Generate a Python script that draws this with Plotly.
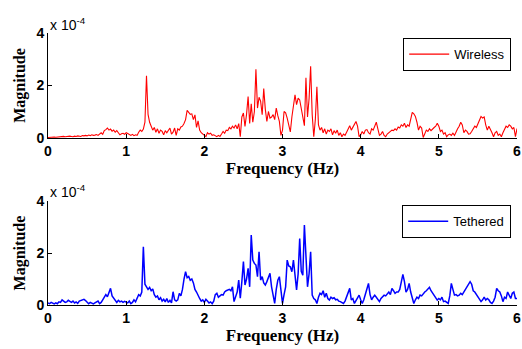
import numpy as np
import plotly.graph_objects as go

# Frequency grid (Hz), 0.02 Hz spacing
freq = np.round(np.arange(301) * 0.02, 2)

# Magnitudes in units of 1e-4
wireless = [
    0.02, 0.03, 0.02, 0.03, 0.04, 0.03, 0.04, 0.05, 0.04, 0.05,
    0.06, 0.05, 0.06, 0.05, 0.07, 0.06, 0.05, 0.07, 0.06, 0.08,
    0.07, 0.06, 0.09, 0.08, 0.10, 0.08, 0.11, 0.09, 0.12, 0.10,
    0.11, 0.13, 0.10, 0.15, 0.20, 0.14, 0.28, 0.32, 0.38, 0.30,
    0.34, 0.26, 0.30, 0.22, 0.28, 0.20, 0.12, 0.16, 0.18, 0.14,
    0.20, 0.17, 0.12, 0.10, 0.14, 0.09, 0.12, 0.10, 0.22, 0.30,
    0.25, 0.34, 0.60, 2.37, 0.90, 0.60, 0.45, 0.30, 0.40, 0.22,
    0.35, 0.18, 0.30, 0.25, 0.12, 0.28, 0.20, 0.32, 0.38, 0.15,
    0.22, 0.38, 0.10, 0.35, 0.30, 0.42, 0.45, 0.55, 0.70, 1.05,
    0.95, 0.90, 0.92, 0.70, 0.88, 0.40, 0.65, 0.30, 0.20, 0.15,
    0.08, 0.05, 0.20, 0.15, 0.18, 0.10, 0.12, 0.08, 0.05, 0.10,
    0.06, 0.15, 0.25, 0.18, 0.30, 0.28, 0.40, 0.35, 0.45, 0.38,
    0.50, 0.35, 0.55, 0.05, 0.80, 0.95, 0.44, 0.90, 1.58, 0.55,
    1.30, 0.60, 1.00, 2.62, 1.14, 1.55, 1.40, 0.89, 1.88, 1.10,
    0.63, 1.01, 0.76, 0.80, 0.89, 0.70, 1.14, 0.85, 0.63, 0.10,
    0.30, 1.01, 0.96, 0.76, 0.45, 0.23, 0.80, 1.30, 1.64, 1.27,
    1.52, 1.45, 1.08, 0.70, 0.47, 2.29, 0.80, 1.50, 2.73, 0.89,
    0.05, 0.70, 1.95, 0.50, 0.30, 0.40, 0.20, 0.35, 0.15, 0.30,
    0.25, 0.35, 0.12, 0.28, 0.18, 0.30, 0.10, 0.20, 0.05, 0.15,
    0.10, 0.22, 0.35, 0.47, 0.30, 0.40, 0.55, 0.63, 0.45, 0.05,
    0.12, 0.25, 0.15, 0.30, 0.32, 0.20, 0.15, 0.35, 0.30, 0.50,
    0.60, 0.35, 0.10, 0.15, 0.25, 0.10, 0.05, 0.15, 0.20, 0.25,
    0.30, 0.28, 0.35, 0.30, 0.42, 0.38, 0.50, 0.45, 0.56, 0.40,
    0.50, 0.45, 0.70, 0.98, 0.92, 0.82, 0.60, 0.30, 0.45, 0.38,
    0.02, 0.20, 0.30, 0.25, 0.35, 0.28, 0.36, 0.40, 0.45, 0.56,
    0.45, 0.25, 0.30, 0.15, 0.20, 0.05, 0.12, 0.15, 0.10, 0.18,
    0.10, 0.25, 0.35, 0.45, 0.60, 0.50, 0.20, 0.30, 0.25, 0.15,
    0.16, 0.25, 0.35, 0.45, 0.40, 0.55, 0.70, 0.82, 0.76, 0.80,
    0.50, 0.30, 0.45, 0.35, 0.20, 0.05, 0.20, 0.25, 0.10, 0.15,
    0.05, 0.20, 0.35, 0.45, 0.40, 0.50, 0.45, 0.35, 0.40, 0.05,
    0.36,
]

tethered = [
    0.08, 0.05, 0.10, 0.06, 0.04, 0.08, 0.05, 0.12, 0.10, 0.20,
    0.15, 0.10, 0.12, 0.18, 0.14, 0.10, 0.15, 0.08, 0.12, 0.06,
    0.15, 0.18, 0.20, 0.22, 0.17, 0.12, 0.05, 0.10, 0.08, 0.04,
    0.08, 0.12, 0.15, 0.05, 0.10, 0.20, 0.30, 0.40, 0.32, 0.45,
    0.64, 0.35, 0.25, 0.15, 0.10, 0.18, 0.12, 0.15, 0.10, 0.14,
    0.12, 0.08, 0.15, 0.05, 0.10, 0.20, 0.12, 0.25, 0.40, 0.35,
    0.50, 2.24, 0.80, 0.70, 0.60, 0.68, 0.55, 0.62, 0.40, 0.30,
    0.35, 0.20, 0.28, 0.15, 0.22, 0.12, 0.25, 0.10, 0.18, 0.08,
    0.51, 0.20, 0.15, 0.20, 0.45, 0.35, 0.60, 1.00, 1.28, 1.05,
    1.10, 0.95, 1.00, 0.85, 0.60, 0.50, 0.35, 0.25, 0.15, 0.20,
    0.10, 0.22, 0.15, 0.08, 0.12, 0.05, 0.15, 0.40, 0.45, 0.30,
    0.35, 0.40, 0.38, 0.50, 0.55, 0.58, 0.60, 0.55, 0.70, 0.13,
    0.30, 0.50, 0.96, 0.26, 0.90, 1.67, 0.77, 1.00, 1.41, 0.70,
    2.69, 1.73, 1.60, 1.54, 1.09, 2.05, 0.96, 1.09, 0.85, 0.77,
    0.90, 1.10, 1.22, 0.70, 0.35, 0.06, 0.60, 0.95, 1.09, 0.60,
    0.06, 0.40, 0.70, 1.73, 1.50, 1.47, 1.28, 1.73, 1.09, 0.58,
    1.20, 2.56, 1.30, 1.15, 3.08, 2.00, 0.70, 1.20, 2.05, 0.38,
    0.25, 0.20, 0.06, 0.30, 0.45, 0.40, 0.55, 0.30, 0.45, 0.25,
    0.19, 0.30, 0.25, 0.28, 0.20, 0.22, 0.15, 0.13, 0.10, 0.06,
    0.15, 0.30, 0.50, 0.64, 0.20, 0.25, 0.06, 0.15, 0.25, 0.38,
    0.20, 0.06, 0.20, 0.40, 0.55, 0.83, 0.40, 0.20, 0.30, 0.38,
    0.30, 0.20, 0.13, 0.25, 0.30, 0.38, 0.35, 0.45, 0.50, 0.40,
    0.64, 0.55, 0.45, 0.50, 0.50, 0.60, 0.85, 1.18, 0.90, 0.50,
    0.60, 0.83, 0.50, 0.30, 0.06, 0.20, 0.30, 0.25, 0.38, 0.35,
    0.45, 0.50, 0.55, 0.60, 0.68, 0.55, 0.45, 0.38, 0.30, 0.19,
    0.25, 0.20, 0.30, 0.13, 0.15, 0.10, 0.06, 0.35, 0.83, 0.60,
    0.38, 0.40, 0.35, 0.38, 0.45, 0.40, 0.50, 0.64, 0.75, 0.85,
    0.90, 0.80, 0.55, 0.50, 0.40, 0.35, 0.25, 0.13, 0.20, 0.30,
    0.19, 0.25, 0.20, 0.10, 0.06, 0.15, 0.30, 0.64, 0.55, 0.50,
    0.35, 0.13, 0.30, 0.25, 0.50, 0.40, 0.25, 0.45, 0.50, 0.25,
    0.25,
]

x_ticks = [0, 1, 2, 3, 4, 5, 6]
y_ticks = [0, 2, 4]
x_title = "Frequency (Hz)"
y_title = "Magnitude"
exp_label = "x 10<sup>-4</sup>"

SANS = "Arial, Liberation Sans, sans-serif"
SERIF = "Times New Roman, Liberation Serif, serif"

fig = go.Figure()
fig.add_trace(go.Scatter(x=freq, y=wireless, mode="lines", name="Wireless",
                         line=dict(color="#ff0000", width=1.1), showlegend=True,
                         xaxis="x", yaxis="y", legend="legend"))
fig.add_trace(go.Scatter(x=freq, y=tethered, mode="lines", name="Tethered",
                         line=dict(color="#0000ff", width=1.5), showlegend=True,
                         xaxis="x2", yaxis="y2", legend="legend2"))

tickfont = dict(family=SANS, size=14, color="black", weight="bold")
xtitlefont = dict(family=SERIF, size=17, color="black", weight="bold")
ytitlefont = dict(family=SERIF, size=16, color="black", weight="bold")

def xax(anchor):
    return dict(anchor=anchor, domain=[0, 1], range=[0, 6], tickvals=x_ticks,
                ticks="inside", ticklen=4, tickcolor="black", showline=True,
                linecolor="black", linewidth=1, showgrid=False, zeroline=False,
                automargin=False,
                tickfont=tickfont, title=dict(text=x_title, font=xtitlefont, standoff=1))

def yax(anchor, dom):
    return dict(anchor=anchor, domain=dom, range=[0, 4], tickvals=y_ticks,
                ticks="inside", ticklen=4, tickcolor="black", showline=True,
                linecolor="black", linewidth=1, showgrid=False, zeroline=False,
                automargin=False,
                tickfont=tickfont, title=dict(text=y_title, font=ytitlefont, standoff=6))

legend_common = dict(xanchor="right", yanchor="top", bgcolor="white",
                     bordercolor="black", borderwidth=1.3, itemwidth=40,
                     font=dict(family=SANS, size=13, color="black"))

fig.update_layout(
    width=522, height=349,
    margin=dict(l=48, r=5, t=33, b=44, pad=0),
    showlegend=True,
    paper_bgcolor="white", plot_bgcolor="white",
    xaxis=xax("y"), yaxis=yax("x", [0.614, 1]),
    xaxis2=xax("y2"), yaxis2=yax("x2", [0, 0.382]),
    legend=dict(x=0.987, y=0.982, **legend_common),
    legend2=dict(x=0.987, y=0.368, **legend_common),
    annotations=[
        dict(text=exp_label, xref="paper", yref="paper", x=0, y=1.033,
             xanchor="left", yanchor="middle", showarrow=False,
             font=dict(family=SANS, size=14, color="black")),
        dict(text=exp_label, xref="paper", yref="paper", x=0, y=0.419,
             xanchor="left", yanchor="middle", showarrow=False,
             font=dict(family=SANS, size=14, color="black")),
    ],
)

fig.write_html("out.html")
